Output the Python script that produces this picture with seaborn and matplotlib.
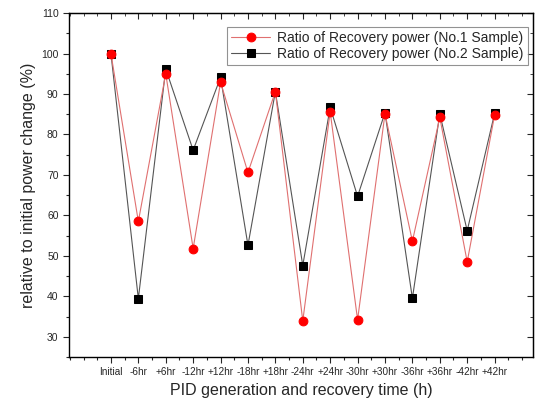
"""
PID generation and recovery: ratio of recovered power for two samples.
"""
import numpy as np
import pandas as pd
import matplotlib
matplotlib.use('Agg')
import matplotlib.pyplot as plt
from matplotlib.ticker import MultipleLocator
import seaborn as sns

# Data
time_labels = ['Initial', '-6hr', '+6hr', '-12hr', '+12hr', '-18hr', '+18hr', '-24hr',
               '+24hr', '-30hr', '+30hr', '-36hr', '+36hr', '-42hr', '+42hr']
sample1 = [100.0, 58.5, 95.0, 51.8, 92.9, 70.6, 90.6, 33.9,
           85.6, 34.2, 85.1, 53.6, 84.2, 48.5, 84.8]
sample2 = [100.0, 39.4, 96.2, 76.1, 94.1, 52.6, 90.6, 47.6,
           86.7, 64.7, 85.4, 39.5, 85.1, 56.2, 85.2]
label1 = 'Ratio of Recovery power (No.1 Sample)'
label2 = 'Ratio of Recovery power (No.2 Sample)'


def main():
    sns.set_style('ticks')
    plt.rcParams['font.family'] = ['Liberation Sans', 'DejaVu Sans']

    x = np.arange(len(time_labels))
    df = pd.DataFrame({'x': x, 's1': sample1, 's2': sample2})

    fig = plt.figure(figsize=(5.37, 4.07), dpi=100)
    ax = fig.add_axes([0.1285, 0.1229, 0.864, 0.845])

    sns.lineplot(data=df, x='x', y='s2', ax=ax, color='#555555', lw=0.8,
                 marker='s', ms=5.5, mfc='black', mec='black', label=label2)
    sns.lineplot(data=df, x='x', y='s1', ax=ax, color='#e07070', lw=0.8,
                 marker='o', ms=6.3, mfc='red', mec='red', label=label1)

    ax.set_xlim(-1.53, 15.4)
    ax.set_ylim(25, 110)
    ax.set_xticks(x)
    ax.set_xticklabels(time_labels, fontsize=7.2)
    ax.xaxis.set_minor_locator(MultipleLocator(0.5))
    ax.yaxis.set_minor_locator(MultipleLocator(5))
    ax.set_yticks(np.arange(30, 111, 10))
    ax.tick_params(axis='y', labelsize=7.5)
    ax.tick_params(which='both', direction='out', width=0.8, top=False, right=False)
    ax.tick_params(which='major', length=4)
    ax.tick_params(which='minor', length=2.5)

    # mirrored inward ticks on top and right, Origin style
    for spine in ax.spines.values():
        spine.set_linewidth(1.0)
        spine.set_color('black')
    tx = ax.secondary_xaxis('top')
    tx.set_xticks(x)
    tx.xaxis.set_minor_locator(MultipleLocator(0.5))
    tx.tick_params(which='both', direction='in', labeltop=False)
    tx.tick_params(which='major', length=4)
    tx.tick_params(which='minor', length=2.5)
    ty = ax.secondary_yaxis('right')
    ty.set_yticks(np.arange(30, 111, 10))
    ty.yaxis.set_minor_locator(MultipleLocator(5))
    ty.tick_params(which='both', direction='in', labelright=False)
    ty.tick_params(which='major', length=4)
    ty.tick_params(which='minor', length=2.5)

    ax.set_xlabel('PID generation and recovery time (h)', fontsize=11.5)
    ax.set_ylabel('relative to initial power change (%)', fontsize=11.5)

    handles, labels = ax.get_legend_handles_labels()
    leg = ax.legend(handles[::-1], labels[::-1], loc='upper right',
                    bbox_to_anchor=(0.989, 0.96), fontsize=10, frameon=True,
                    fancybox=False, edgecolor='#777777', handlelength=2.8,
                    borderpad=0.3, labelspacing=0.15, handletextpad=0.5,
                    borderaxespad=0)
    leg.get_frame().set_linewidth(0.8)

    fig.savefig('out.png', dpi=100)


if __name__ == '__main__':
    main()
